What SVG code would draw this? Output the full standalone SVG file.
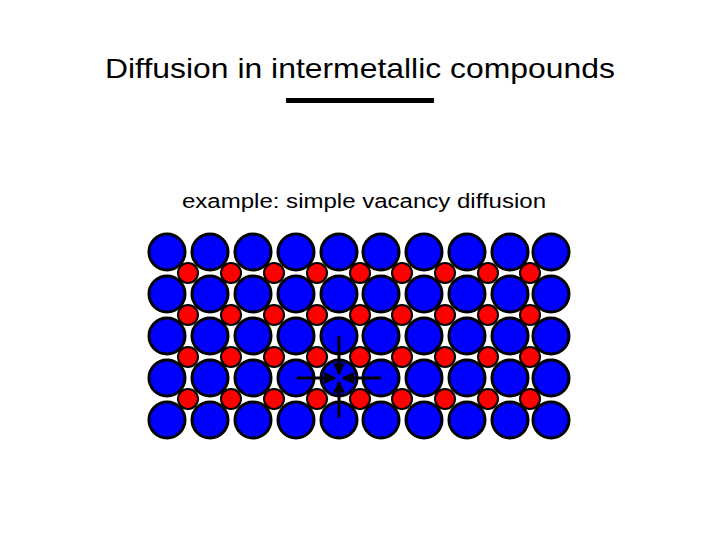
<svg xmlns="http://www.w3.org/2000/svg" width="720" height="540" viewBox="0 0 720 540">
<style>
.b{fill:#0000ff;stroke:#000;stroke-width:3}
.r{fill:#ff0000;stroke:#000;stroke-width:2}
.t{font-family:"Liberation Sans",Arial,sans-serif;fill:#000;text-anchor:middle}
.a{stroke:#000;stroke-width:3;fill:none;marker-end:url(#m)}
</style>
<defs>
<marker id="m" viewBox="0 0 10 10" refX="9" refY="5" markerWidth="4" markerHeight="4" orient="auto"><path d="M0,0L10,5L0,10z" fill="#000"/></marker>
<g id="brow">
<circle class="b" cx="167" cy="0" r="18"/><circle class="b" cx="210" cy="0" r="18"/><circle class="b" cx="253" cy="0" r="18"/><circle class="b" cx="296" cy="0" r="18"/><circle class="b" cx="339" cy="0" r="18"/><circle class="b" cx="381" cy="0" r="18"/><circle class="b" cx="424" cy="0" r="18"/><circle class="b" cx="467" cy="0" r="18"/><circle class="b" cx="510" cy="0" r="18"/><circle class="b" cx="551" cy="0" r="18"/>
</g>
<g id="rrow">
<circle class="r" cx="188" cy="0" r="10"/><circle class="r" cx="231" cy="0" r="10"/><circle class="r" cx="274" cy="0" r="10"/><circle class="r" cx="317" cy="0" r="10"/><circle class="r" cx="360" cy="0" r="10"/><circle class="r" cx="402" cy="0" r="10"/><circle class="r" cx="445" cy="0" r="10"/><circle class="r" cx="488" cy="0" r="10"/><circle class="r" cx="530" cy="0" r="10"/>
</g>
</defs>
<rect width="720" height="540" fill="#fff"/>
<text class="t" x="360" y="78" font-size="28" textLength="510" lengthAdjust="spacingAndGlyphs">Diffusion in intermetallic compounds</text>
<rect x="286" y="98" width="148" height="5" fill="#000"/>
<text class="t" x="364" y="208" font-size="20" textLength="364" lengthAdjust="spacingAndGlyphs">example: simple vacancy diffusion</text>
<g id="lattice">
<use href="#brow" y="252"/><use href="#brow" y="294"/><use href="#brow" y="336"/><use href="#brow" y="378"/><use href="#brow" y="420"/>
<use href="#rrow" y="273"/><use href="#rrow" y="315"/><use href="#rrow" y="357"/><use href="#rrow" y="399"/>
</g>
<g id="connectors">
<line class="a" x1="297" y1="378" x2="335" y2="378"/>
<line class="a" x1="381" y1="378" x2="343" y2="378"/>
<line class="a" x1="339" y1="336" x2="339" y2="374"/>
<line class="a" x1="339" y1="418" x2="339" y2="382"/>
</g>
</svg>
